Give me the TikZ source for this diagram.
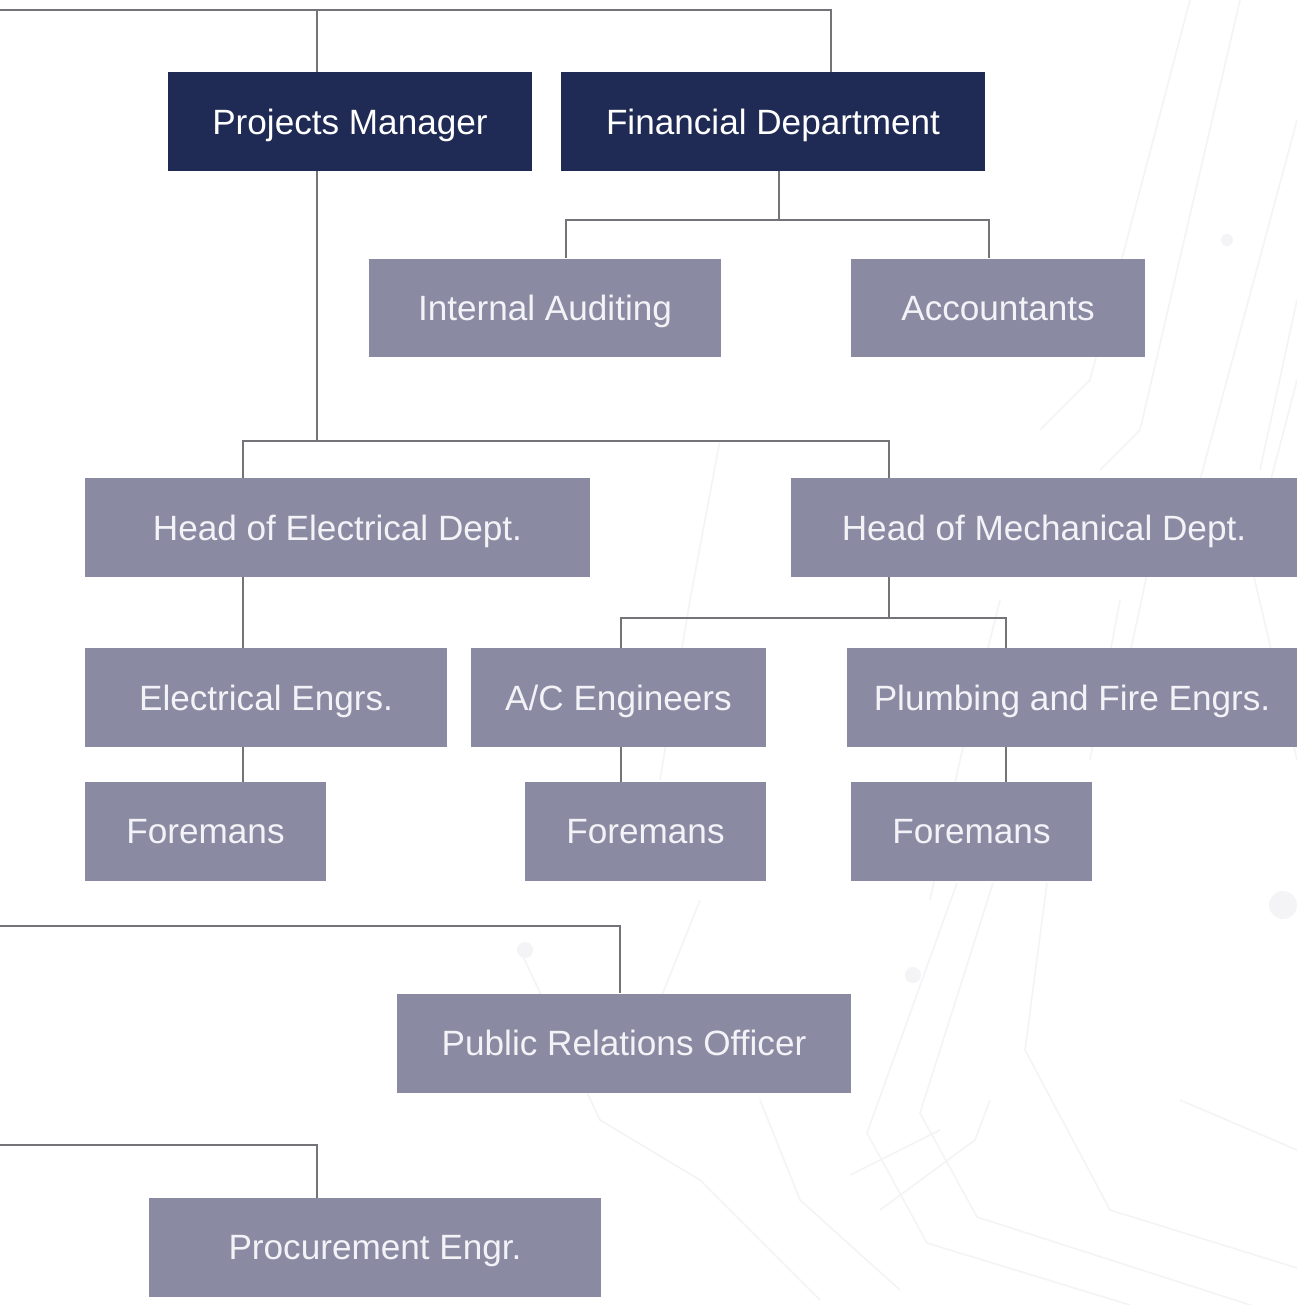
\documentclass[tikz,border=0pt]{standalone}
\usepackage{fontspec}
\setmainfont{Liberation Sans}
\begin{document}
\begin{tikzpicture}[x=0.02cm,y=-0.02cm,
  navybox/.style={fill=navy,text=white,minimum height=1.98cm,inner sep=0pt,text depth=0pt,font=\fontsize{20}{24}\selectfont},
  greybox/.style={fill=lav,text=boxtext,minimum height=1.98cm,inner sep=0pt,text depth=0pt,font=\fontsize{20}{24}\selectfont},
  conn/.style={draw=linegray,line width=1pt},
  circuit/.style={draw=faint,line width=0.9pt}]
\definecolor{navy}{HTML}{1F2B55}
\definecolor{lav}{HTML}{8A8AA3}
\definecolor{boxtext}{HTML}{F2F2F7}
\definecolor{linegray}{HTML}{747478}
\definecolor{faint}{HTML}{F4F4F6}
\useasboundingbox (0,0) rectangle (1297,1305);
\fill[white] (0,0) rectangle (1297,1305);
% faint background circuit lines
\draw[circuit] (1047,883) -- (1025,1050) -- (1110,1210) -- (1297,1268);
\draw[circuit] (993,883) -- (920,1113) -- (977,1217) -- (1297,1320);
\draw[circuit] (957,883) -- (867,1133) -- (927,1243) -- (1130,1305);
\draw[circuit] (880,1210) -- (975,1140) -- (990,1100);
\draw[circuit] (850,1175) -- (940,1130);
\draw[circuit] (1240,0) -- (1140,430) -- (1100,470);
\draw[circuit] (1297,120) -- (1200,480) -- (1150,560) -- (1120,700);
\draw[circuit] (1297,300) -- (1260,470);
\draw[circuit] (1190,0) -- (1090,380) -- (1040,430);
\draw[circuit] (1000,600) -- (960,760) -- (930,900);
\draw[circuit] (1120,600) -- (1090,760);
\draw[circuit] (720,440) -- (690,600) -- (660,780);
\draw[circuit] (700,900) -- (660,1000);
\draw[circuit] (520,950) -- (600,1120) -- (700,1180) -- (820,1300);
\draw[circuit] (760,1100) -- (800,1200) -- (900,1290);
\draw[circuit] (1297,380) -- (1250,560) -- (1297,760);
\draw[circuit] (1180,1100) -- (1297,1150);
\fill[faint] (1283,905) circle (14);
\fill[faint] (525,950) circle (8);
\fill[faint] (913,975) circle (8);
\fill[faint] (1227,240) circle (6);
% nodes
\node[navybox,minimum width=7.28cm] (PM) at (350,121.5) {Projects Manager};
\node[navybox,minimum width=8.48cm] (FD) at (773,121.5) {Financial Department};
\node[greybox,minimum width=7.04cm] (IA) at (545,308) {Internal Auditing};
\node[greybox,minimum width=5.88cm] (AC) at (998,308) {Accountants};
\node[greybox,minimum width=10.1cm] (HE) at (337.5,527.5) {Head of Electrical Dept.};
\node[greybox,minimum width=10.12cm] (HM) at (1044,527.5) {Head of Mechanical Dept.};
\node[greybox,minimum width=7.24cm] (EE) at (266,697.5) {Electrical Engrs.};
\node[greybox,minimum width=5.9cm] (ACE) at (618.5,697.5) {A/C Engineers};
\node[greybox,minimum width=9.0cm] (PF) at (1072,697.5) {Plumbing and Fire Engrs.};
\node[greybox,minimum width=4.82cm] (F1) at (205.5,831.5) {Foremans};
\node[greybox,minimum width=4.82cm] (F2) at (645.5,831.5) {Foremans};
\node[greybox,minimum width=4.82cm] (F3) at (971.5,831.5) {Foremans};
\node[greybox,minimum width=9.08cm] (PR) at (624,1043) {Public Relations Officer};
\node[greybox,minimum width=9.04cm] (PE) at (375,1247.5) {Procurement Engr.};
% junction coordinates
\coordinate (L0) at (0,10);
\coordinate (J1) at (317,10);
\coordinate (J2) at (831,10);
\coordinate (B1) at (317,441);
\coordinate (B1l) at (243,441);
\coordinate (B1r) at (889,441);
\coordinate (F0) at (779,220);
\coordinate (F0l) at (566,220);
\coordinate (F0r) at (989,220);
\coordinate (M0) at (889,618);
\coordinate (M0l) at (621,618);
\coordinate (M0r) at (1006,618);
\coordinate (P0) at (0,926);
\coordinate (P1) at (620,926);
\coordinate (Q0) at (0,1145);
\coordinate (Q1) at (317,1145);
% connectors
\draw[conn] (L0) -- (J2) -- (J2 |- FD.north);
\draw[conn] (J1) -- (J1 |- PM.north);
\draw[conn] (J1 |- PM.south) -- (B1);
\draw[conn] (B1l |- HE.north) -- (B1l) -- (B1r) -- (B1r |- HM.north);
\draw[conn] (F0 |- FD.south) -- (F0);
\draw[conn] (F0l |- IA.north) -- (F0l) -- (F0r) -- (F0r |- AC.north);
\draw[conn] (B1l |- HE.south) -- (B1l |- EE.north);
\draw[conn] (B1l |- EE.south) -- (B1l |- F1.north);
\draw[conn] (M0 |- HM.south) -- (M0);
\draw[conn] (M0l |- ACE.north) -- (M0l) -- (M0r) -- (M0r |- PF.north);
\draw[conn] (M0l |- ACE.south) -- (M0l |- F2.north);
\draw[conn] (M0r |- PF.south) -- (M0r |- F3.north);
\draw[conn] (P0) -- (P1) -- (P1 |- PR.north);
\draw[conn] (Q0) -- (Q1) -- (Q1 |- PE.north);
\end{tikzpicture}
\end{document}
